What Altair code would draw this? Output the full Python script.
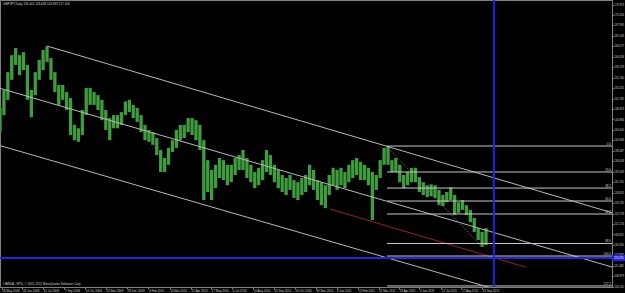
import altair as alt
import pandas as pd

# weekly high / low (GBPJPY daily chart, May 2009 - Sep 2011)
highs = [148.6, 152.8, 157.0, 161.0, 162.7, 161.0, 161.7, 158.7, 152.8, 157.0,
         159.9, 162.2, 163.1, 160.3, 157.0, 154.0, 154.0, 152.3, 150.9, 144.6,
         143.8, 148.1, 153.3, 153.3, 152.3, 151.6, 150.5, 148.1, 146.2, 146.9,
         146.9, 147.6, 150.1, 150.5, 149.3, 148.6, 146.9, 144.6, 143.4, 142.9,
         141.5, 138.7, 136.8, 139.2, 141.0, 143.4, 144.6, 144.6, 146.2, 146.2,
         145.7, 144.6, 141.0, 136.3, 134.0, 135.2, 136.8, 136.3, 135.2, 135.2,
         136.8, 137.5, 138.7, 136.8, 135.2, 133.5, 134.5, 136.3, 138.7, 137.5,
         135.2, 134.0, 132.8, 132.1, 132.8, 131.6, 131.1, 132.1, 132.8, 135.2,
         134.0, 131.6, 131.1, 130.4, 132.8, 134.5, 134.0, 134.5, 133.5, 135.2,
         136.3, 136.8, 135.9, 135.2, 134.5, 133.5, 132.8, 136.3, 139.2, 139.6,
         136.3, 136.8, 135.2, 132.8, 133.5, 134.5, 134.5, 132.3, 131.1, 130.4,
         130.6, 130.4, 129.3, 128.1, 128.8, 129.9, 128.1, 126.4, 126.9, 125.7,
         124.6, 122.7, 120.3, 119.4, 120.3]
lows = [143.0, 146.9, 150.5, 155.2, 158.7, 156.3, 157.5, 150.5, 146.4, 151.6,
        155.2, 157.5, 159.4, 155.2, 152.3, 149.3, 150.5, 148.1, 142.2, 141.0,
        140.6, 142.2, 146.9, 149.3, 149.3, 148.1, 145.7, 143.4, 141.0, 143.8,
        143.8, 144.6, 146.9, 147.6, 146.2, 145.3, 142.9, 141.0, 140.6, 139.9,
        137.5, 133.5, 133.5, 135.2, 138.2, 139.2, 141.0, 141.5, 142.9, 142.2,
        141.0, 138.7, 126.9, 128.8, 126.9, 129.7, 132.1, 131.6, 130.4, 131.1,
        132.8, 134.0, 134.0, 132.1, 131.1, 129.7, 130.4, 131.6, 133.5, 132.8,
        131.1, 129.7, 128.8, 128.1, 129.3, 127.4, 126.9, 128.1, 128.8, 130.4,
        129.3, 126.9, 125.7, 125.0, 128.1, 130.4, 129.3, 130.4, 129.7, 131.1,
        132.1, 132.8, 131.6, 131.6, 130.4, 122.2, 129.3, 132.1, 135.2, 135.2,
        133.5, 133.5, 131.1, 129.7, 130.4, 131.1, 131.1, 128.8, 128.1, 127.6,
        127.8, 127.4, 125.7, 125.5, 126.4, 126.9, 123.4, 123.9, 124.6, 123.4,
        121.7, 119.4, 117.5, 115.9, 116.3]
week_dates = pd.date_range("2009-05-15", periods=len(highs), freq="7D")
bars = pd.DataFrame({"date": week_dates, "high": highs, "low": lows})

# drawn trend lines (start / end anchors)
line_start_dates = ["2009-08-07", "2009-05-15", "2009-05-15", "2010-12-25"]
line_start_prices = [163.15, 153.2, 139.72, 124.8]
line_end_dates = ["2012-05-12", "2012-05-12", "2012-05-12", "2011-12-11"]
line_end_prices = [123.93, 111.15, 97.98, 111.08]
line_colors = ["#b8b8b8", "#b8b8b8", "#b8b8b8", "#a01c1c"]
trend = pd.DataFrame({"d1": pd.to_datetime(line_start_dates), "p1": line_start_prices,
                      "d2": pd.to_datetime(line_end_dates), "p2": line_end_prices,
                      "c": line_colors})

# fibonacci anchor line (dotted)
fib_anchor = pd.DataFrame({"d1": pd.to_datetime(["2011-04-05"]), "p1": [139.62],
                           "d2": pd.to_datetime(["2011-09-23"]), "p2": [115.86]})

# fibonacci levels
fib_labels = ["0.0", "23.6", "38.2", "50.0", "61.8", "88.6", "100.0", "127.2"]
fib_prices = [139.62, 133.51, 129.73, 126.68, 123.63, 116.69, 113.74, 106.70]
fib = pd.DataFrame({"lab": fib_labels, "p": fib_prices,
                    "d1": pd.to_datetime(["2011-04-06"] * len(fib_labels)),
                    "d2": pd.to_datetime(["2012-05-12"] * len(fib_labels))})

# blue cross lines
hline_price = [113.27]
vline_date = ["2011-10-14"]
hline = pd.DataFrame({"p": hline_price, "t": ["113.270"]})
vline = pd.DataFrame({"d": pd.to_datetime(vline_date)})

# axes
date_ticks = [(2009, 5, 18), (2009, 6, 24), (2009, 7, 31), (2009, 9, 7), (2009, 10, 14),
              (2009, 11, 20), (2009, 12, 28), (2010, 2, 4), (2010, 3, 14), (2010, 4, 21),
              (2010, 5, 27), (2010, 7, 4), (2010, 8, 10), (2010, 9, 16), (2010, 10, 24),
              (2010, 11, 30), (2011, 1, 6), (2011, 2, 13), (2011, 3, 22), (2011, 4, 28),
              (2011, 6, 3), (2011, 7, 12), (2011, 8, 17), (2011, 9, 23)]
price_ticks = [106.520, 108.979, 111.438, 113.897, 116.356, 118.815, 121.274, 123.733,
               126.192, 128.651, 131.110, 133.569, 136.028, 138.487, 140.946, 143.405,
               145.864, 148.323, 150.782, 153.241, 155.700, 158.159, 160.618, 163.077,
               165.536, 167.995, 170.454, 172.913]
header_text = "GBPJPY,Daily  118.401 118.648 116.969 117.416"
footer_text = "OANDA - MT4, \u00a9 2001-2011 MetaQuotes Software Corp."

x_dom = [alt.DateTime(year=2009, month=5, date=15), alt.DateTime(year=2012, month=5, date=12)]
xscale = alt.Scale(domain=x_dom)
yscale = alt.Scale(domain=[106.45, 173.98], zero=False, nice=False)

xaxis = alt.Axis(values=[alt.DateTime(year=a, month=b, date=c) for a, b, c in date_ticks],
                 format="%-d %b %Y", labelAlign="left", labelBaseline="top",
                 labelFontSize=3.0, labelPadding=0.5, tickSize=2, labelOverlap=False,
                 labelFlush=False, labelBound=False, title=None, grid=False)
yaxis = alt.Axis(values=price_ticks, format=".3f", orient="right", labelAlign="left",
                 labelBaseline="middle", labelFontSize=2.7, labelPadding=0.3, tickSize=1.5,
                 labelOverlap=False, labelFlush=False, labelBound=False,
                 title=None, grid=False)


def X(field):
    return alt.X(field, type="temporal", scale=xscale, axis=xaxis)


def Y(field):
    return alt.Y(field, type="quantitative", scale=yscale, axis=yaxis)


base_bars = alt.Chart(bars).mark_rule(color="#3f9c3f", strokeWidth=3.3).encode(
    x=X("date"), y=Y("low"), y2="high",
)

trend_layer = alt.Chart(trend).mark_rule(strokeWidth=1, clip=True).encode(
    x=X("d1"), x2="d2", y=Y("p1"), y2="p2",
    color=alt.Color("c:N", scale=None),
)

anchor_layer = alt.Chart(fib_anchor).mark_rule(strokeWidth=1, color="#808080",
                                               strokeDash=[1, 1.5], clip=True).encode(
    x=X("d1"), x2="d2", y=Y("p1"), y2="p2",
)

fib_lines = alt.Chart(fib).mark_rule(strokeWidth=1, color="#c8c8c8", clip=True).encode(
    x=X("d1"), x2="d2", y=Y("p"),
)
fib_text = alt.Chart(fib).mark_text(align="right", baseline="bottom", dx=-1, dy=-0.3,
                                    fontSize=3.0, color="#d0d0d0",
                                    font="Liberation Sans").encode(
    x=X("d2"), y=Y("p"), text="lab:N",
)

blue_h = alt.Chart(hline).mark_rule(color="#2424e0", strokeWidth=2).encode(y=Y("p"))
blue_v = alt.Chart(vline).mark_rule(color="#2424e0", strokeWidth=2).encode(x=X("d"))
blue_box = alt.Chart(hline).mark_rule(color="#2424e0", strokeWidth=6).encode(
    y=Y("p"), x=alt.value(612), x2=alt.value(625))
blue_txt = alt.Chart(hline).mark_text(align="left", baseline="middle", fontSize=2.7,
                                      color="#ffffff", font="Liberation Sans").encode(
    y=Y("p"), x=alt.value(614), text="t:N")

header = alt.Chart(pd.DataFrame({"t": [header_text]})).mark_text(
    align="left", baseline="middle", fontSize=3.1, color="#d0d0d0",
    font="Liberation Sans").encode(x=alt.value(3), y=alt.value(4), text="t:N")
footer = alt.Chart(pd.DataFrame({"t": [footer_text]})).mark_text(
    align="left", baseline="middle", fontSize=3.1, color="#d0d0d0",
    font="Liberation Sans").encode(x=alt.value(3), y=alt.value(284), text="t:N")

chart = alt.layer(
    base_bars, trend_layer, anchor_layer, fib_lines, fib_text,
    blue_h, blue_v, blue_box, blue_txt, header, footer,
).properties(
    width=612, height=287,
    background="#000000",
    padding={"left": 0, "top": 0, "right": 13, "bottom": 6},
    autosize=alt.AutoSizeParams(type="none"),
).configure_view(
    stroke="#808080", strokeWidth=1,
).configure_axis(
    domainColor="#808080", tickColor="#808080", labelColor="#d0d0d0",
    labelFont="Liberation Sans", domainWidth=1, tickWidth=1, labelOverlap=False,
)

chart.save("out.html", embed_options={"renderer": "svg", "actions": False})
